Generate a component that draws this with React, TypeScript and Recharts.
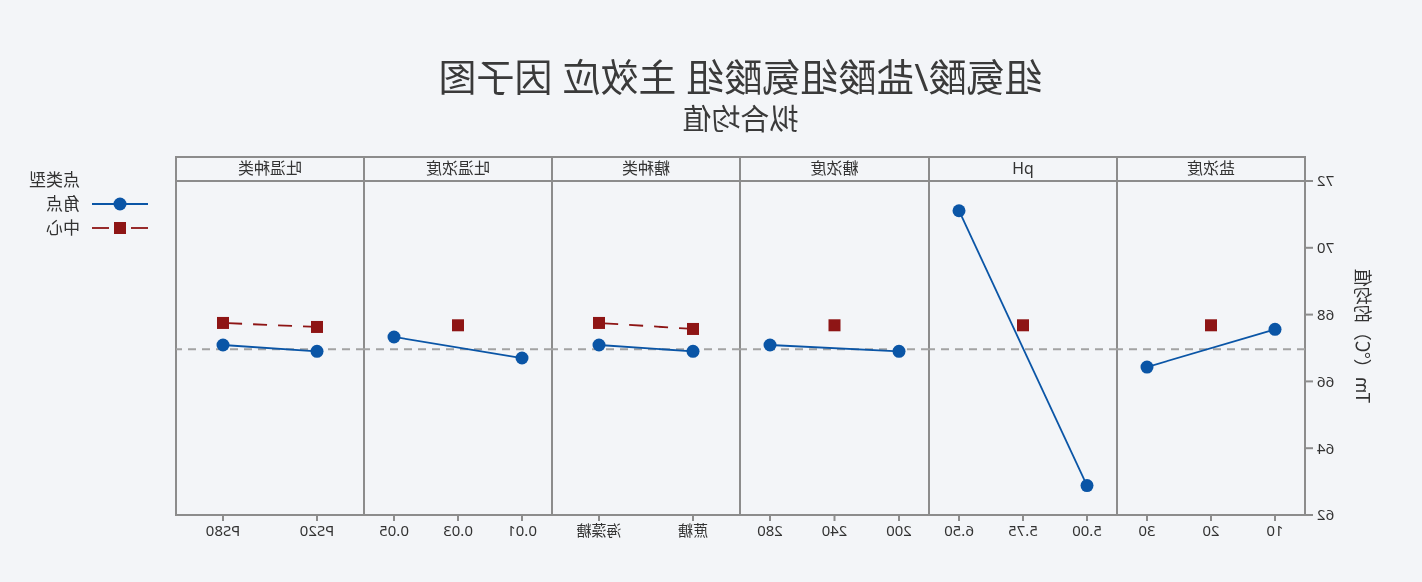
import { LineChart, Line, XAxis, YAxis, ReferenceLine } from "recharts";

const FONT = '"Noto Sans", "Noto Sans CJK SC", sans-serif';
const CJK_FONT = '"Noto Sans CJK SC", "Noto Sans", sans-serif';
const BLUE = "#0a55a6";
const RED = "#8e1515";
const FRAME = "#8c8c8c";
const BG = "#f3f5f8";
const TEXT = "#333333";

const title = "组氨酸/盐酸组氨酸组 主效应 因子图";
const subtitle = "拟合均值";
const yLabel = "Tm（℃）的均值";
const legendTitle = "点类型";
const cornerName = "角点";
const centerName = "中心";

const yTicks = [62, 64, 66, 68, 70, 72];
const overallMean = 66.96;

const factors = ["盐浓度", "pH", "糖浓度", "糖种类", "吐温浓度", "吐温种类"];

const saltLevels = ["10", "20", "30"];
const saltCorner = [67.56, null, 66.43];
const saltCenter = [null, 67.68, null];

const phLevels = ["5.00", "5.75", "6.50"];
const phCorner = [62.88, null, 71.11];
const phCenter = [null, 67.68, null];

const sugarConcLevels = ["200", "240", "280"];
const sugarConcCorner = [66.9, null, 67.09];
const sugarConcCenter = [null, 67.68, null];

const sugarTypeLevels = ["蔗糖", "海藻糖"];
const sugarTypeCorner = [66.9, 67.09];
const sugarTypeCenter = [67.57, 67.75];

const tweenConcLevels = ["0.01", "0.03", "0.05"];
const tweenConcCorner = [66.7, null, 67.33];
const tweenConcCenter = [null, 67.68, null];

const tweenTypeLevels = ["PS20", "PS80"];
const tweenTypeCorner = [66.9, 67.09];
const tweenTypeCenter = [67.63, 67.75];

const panels = [
  { levels: saltLevels, corner: saltCorner, center: saltCenter },
  { levels: phLevels, corner: phCorner, center: phCenter },
  { levels: sugarConcLevels, corner: sugarConcCorner, center: sugarConcCenter },
  { levels: sugarTypeLevels, corner: sugarTypeCorner, center: sugarTypeCenter },
  { levels: tweenConcLevels, corner: tweenConcCorner, center: tweenConcCenter },
  { levels: tweenTypeLevels, corner: tweenTypeCorner, center: tweenTypeCenter },
].map((p, i) => ({
  name: factors[i],
  twoLevel: p.levels.length === 2,
  rows: p.levels.map((lv, j) => ({ level: lv, corner: p.corner[j], center: p.center[j] })),
}));

const PLOT_LEFT = 117;
const PLOT_TOP = 181;
const PLOT_H = 334;
const PANEL_W = 1129 / 6;
const Y_AXIS_W = 117;
const TOP_PAD = 20;
const X_AXIS_H = 40;

const CornerDot = (props: any) => {
  const { cx, cy, index } = props;
  if (cx == null || cy == null) return <g key={`cd${index}`} />;
  return <circle key={`cd${index}`} cx={cx} cy={cy} r={6.5} fill={BLUE} />;
};

const CenterDot = (props: any) => {
  const { cx, cy, index } = props;
  if (cx == null || cy == null) return <g key={`ce${index}`} />;
  return <rect key={`ce${index}`} x={cx - 6} y={cy - 6} width={12} height={12} fill={RED} />;
};

function YTitle(props: any) {
  const vb = props.viewBox || { x: 0, y: TOP_PAD, width: Y_AXIS_W, height: PLOT_H };
  const x = vb.x + vb.width - 59;
  const y = vb.y + vb.height / 2 - 12;
  return (
    <text
      x={x}
      y={y}
      transform={`rotate(-90 ${x} ${y})`}
      textAnchor="middle"
      dominantBaseline="central"
      fontSize={18}
      fill={TEXT}
      fontFamily={CJK_FONT}
    >
      {yLabel}
    </text>
  );
}

function Panel({ panel, index }: { panel: (typeof panels)[number]; index: number }) {
  const first = index === 0;
  const left = Math.round(PLOT_LEFT + index * PANEL_W);
  const right = Math.round(PLOT_LEFT + (index + 1) * PANEL_W);
  const w = right - left;
  const pad = panel.twoLevel ? 47 : 30;
  const chartW = first ? w + Y_AXIS_W : w;

  return (
    <div
      style={{
        position: "absolute",
        left: first ? left - Y_AXIS_W : left,
        top: PLOT_TOP - TOP_PAD,
      }}
    >
      <LineChart
        width={chartW}
        height={TOP_PAD + PLOT_H + X_AXIS_H}
        data={panel.rows}
        margin={{ top: TOP_PAD, right: 0, bottom: 0, left: 0 }}
      >
        <XAxis
          dataKey="level"
          type="category"
          padding={{ left: pad, right: pad }}
          height={X_AXIS_H}
          axisLine={false}
          tickLine={{ stroke: FRAME, strokeWidth: 2 }}
          tickSize={6}
          tickMargin={4}
          interval={0}
          tick={{ fontSize: 15, fill: TEXT, fontFamily: FONT }}
        />
        {first ? (
          <YAxis
            domain={[62, 72]}
            ticks={yTicks}
            width={Y_AXIS_W}
            axisLine={false}
            tickLine={{ stroke: FRAME, strokeWidth: 2 }}
            tickSize={8}
            tickMargin={4}
            tick={{ fontSize: 15, fill: TEXT, fontFamily: FONT }}
            label={<YTitle />}
          />
        ) : (
          <YAxis hide domain={[62, 72]} />
        )}
        <ReferenceLine
          y={overallMean}
          stroke="#a3a3a3"
          strokeWidth={2}
          strokeDasharray="8 6"
        />
        <Line
          dataKey="center"
          stroke={panel.twoLevel ? RED : "none"}
          strokeWidth={1.8}
          strokeDasharray="14 11"
          connectNulls
          dot={CenterDot}
          activeDot={false}
          isAnimationActive={false}
        />
        <Line
          dataKey="corner"
          stroke={BLUE}
          strokeWidth={1.8}
          connectNulls
          dot={CornerDot}
          activeDot={false}
          isAnimationActive={false}
        />
      </LineChart>
    </div>
  );
}

export default function App() {
  return (
    <div
      style={{
        position: "fixed",
        left: 0,
        top: 0,
        width: 1422,
        height: 582,
        background: BG,
        fontFamily: FONT,
        color: TEXT,
        overflow: "hidden",
        transform: "scaleX(-1)",
      }}
    >
      <div
        style={{
          position: "absolute",
          left: PLOT_LEFT,
          width: 1129,
          top: 53,
          textAlign: "center",
          fontSize: 38,
          lineHeight: "46px",
          color: "#3a3a3a",
        }}
      >
        {title}
      </div>
      <div
        style={{
          position: "absolute",
          left: PLOT_LEFT,
          width: 1129,
          top: 102,
          textAlign: "center",
          fontSize: 29,
          lineHeight: "34px",
          color: "#3a3a3a",
        }}
      >
        {subtitle}
      </div>

      {panels.map((p, i) => {
        const left = Math.round(PLOT_LEFT + i * PANEL_W);
        const right = Math.round(PLOT_LEFT + (i + 1) * PANEL_W);
        return (
          <div key={`box${i}`}>
            <div
              style={{
                position: "absolute",
                left: left - 1,
                top: 156,
                width: right - left + 2,
                height: 360,
                border: `2px solid ${FRAME}`,
                boxSizing: "border-box",
              }}
            />
            <div
              style={{
                position: "absolute",
                left: left - 1,
                top: 156,
                width: right - left + 2,
                height: 26,
                borderBottom: `2px solid ${FRAME}`,
                boxSizing: "border-box",
                textAlign: "center",
                fontSize: 16,
                lineHeight: "24px",
              }}
            >
              {p.name}
            </div>
          </div>
        );
      })}

      {panels.map((p, i) => (
        <Panel key={p.name} panel={p} index={i} />
      ))}

      <div style={{ position: "absolute", left: 1274, top: 168, fontSize: 17, lineHeight: "24px" }}>
        <div style={{ marginLeft: 68 }}>{legendTitle}</div>
        <div style={{ display: "flex", alignItems: "center" }}>
          <svg width={56} height={24}>
            <line x1={0} y1={12} x2={56} y2={12} stroke={BLUE} strokeWidth={1.8} />
            <circle cx={28} cy={12} r={6.5} fill={BLUE} />
          </svg>
          <span style={{ marginLeft: 12 }}>{cornerName}</span>
        </div>
        <div style={{ display: "flex", alignItems: "center" }}>
          <svg width={56} height={24}>
            <line x1={0} y1={12} x2={17} y2={12} stroke={RED} strokeWidth={1.8} />
            <line x1={39} y1={12} x2={56} y2={12} stroke={RED} strokeWidth={1.8} />
            <rect x={22} y={6} width={12} height={12} fill={RED} />
          </svg>
          <span style={{ marginLeft: 12 }}>{centerName}</span>
        </div>
      </div>
    </div>
  );
}
